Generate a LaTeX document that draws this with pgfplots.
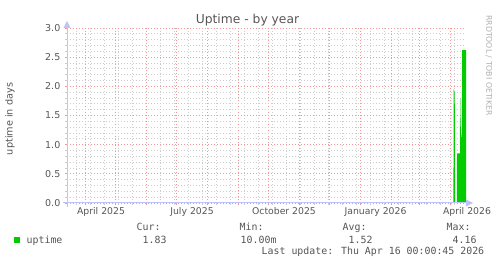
\documentclass[border=0pt]{standalone}
\usepackage{pgfplots}
\pgfplotsset{compat=1.18}
\usepackage{fontspec}
\setmainfont{DejaVu Sans}
\newfontfamily\monofont{DejaVu Sans Mono}
\usetikzlibrary{arrows.meta}
\definecolor{uptimegreen}{RGB}{0,204,0}
\definecolor{gridred}{RGB}{245,150,150}
\definecolor{gridgrey}{RGB}{205,205,205}
\definecolor{axisblue}{RGB}{190,195,250}
\definecolor{txt}{RGB}{85,85,85}
\definecolor{wm}{RGB}{175,175,175}
\begin{document}
\begin{tikzpicture}
\path[use as bounding box] (0,0) rectangle (497bp,264bp);
\begin{axis}[
  at={(67bp,61bp)}, anchor=south west,
  scale only axis, width=399bp, height=175bp,
  xmin=-18, xmax=381, ymin=0, ymax=3,
  axis line style={draw=none},
  xtick={0,30,61,91,122,153,183,214,244,275,306,334,365},
  xticklabels={},
  minor xtick={-9,5,...,380},
  ytick={0,0.5,1,1.5,2,2.5,3},
  minor y tick num=4,
  xtick pos=bottom, ytick pos=left,
  tick align=outside,
  major tick length=2.5bp, minor tick length=2bp,
  major tick style={color=gridred, line width=0.9bp},
  minor tick style={color=gridgrey, line width=0.9bp},
  grid=both,
  major grid style={color=gridred, line width=0.9bp, dash pattern=on 1bp off 2bp},
  minor grid style={color=gridgrey, line width=0.9bp, dash pattern=on 1bp off 2bp},
  yticklabel style={font=\fontsize{9.5bp}{11bp}\selectfont, color=txt, anchor=east, inner sep=0pt, xshift=-4bp},
  /pgf/number format/.cd, fixed, fixed zerofill, precision=1, assume math mode=true,
]
\addplot[fill=uptimegreen, draw=none] coordinates {
  (368.4,0) (368.7,1.95) (369.7,1.9) (370.1,0)
  (371.9,0) (372,0.85) (375,0.85) (375.5,1.8) (376,1.1) (376.8,1.2) (377.2,2.62) (381,2.62)
} \closedcycle;
\end{axis}
% axes with arrows
\draw[axisblue, line width=1bp] (63bp,61bp) -- (467bp,61bp);
\fill[axisblue] (466bp,64.5bp) -- (473bp,61bp) -- (466bp,57.5bp) -- cycle;
\draw[axisblue, line width=1bp] (67bp,57bp) -- (67bp,237bp);
\fill[axisblue] (63.5bp,236bp) -- (67bp,243bp) -- (70.5bp,236bp) -- cycle;
% title
\node[anchor=base, inner sep=0pt, color=txt, font=\fontsize{12.3bp}{14bp}\selectfont] at (247.5bp,240bp) {Uptime - by year};
% watermark
\node[rotate=-90, anchor=west, inner sep=0pt, color=wm, font=\fontsize{7.8bp}{9bp}\selectfont] at (489bp,249bp) {RRDTOOL / TOBI OETIKER};
% y label
\node[rotate=90, anchor=center, inner sep=0pt, color=txt, font=\fontsize{9.7bp}{11bp}\selectfont] at (10bp,145bp) {uptime in days};
% x labels
\begin{scope}[every node/.style={anchor=base, inner sep=0pt, color=txt, font=\fontsize{9.3bp}{11bp}\selectfont}]
\node at (101bp,49bp) {April 2025};
\node at (192bp,49bp) {July 2025};
\node at (284bp,49bp) {October 2025};
\node at (375.5bp,49bp) {January 2026};
\node at (467bp,49bp) {April 2026};
\end{scope}
% legend
\fill[uptimegreen] (14bp,21bp) rectangle (20bp,27bp);
\begin{scope}[every node/.style={anchor=base west, inner sep=0pt, color=txt, font=\monofont\fontsize{9.9bp}{11bp}\selectfont}]
\node at (26.5bp,21bp) {uptime};
\node at (136.5bp,34bp) {Cur:};
\node at (142.5bp,21bp) {1.83};
\node at (239.5bp,34bp) {Min:};
\node at (240.5bp,21bp) {10.00m};
\node at (342.5bp,34bp) {Avg:};
\node at (348.5bp,21bp) {1.52};
\node at (446.5bp,34bp) {Max:};
\node at (452.5bp,21bp) {4.16};
\node at (261.5bp,9.5bp) {Last update: Thu Apr 16 00:00:45 2026};
\end{scope}
\end{tikzpicture}
\end{document}
